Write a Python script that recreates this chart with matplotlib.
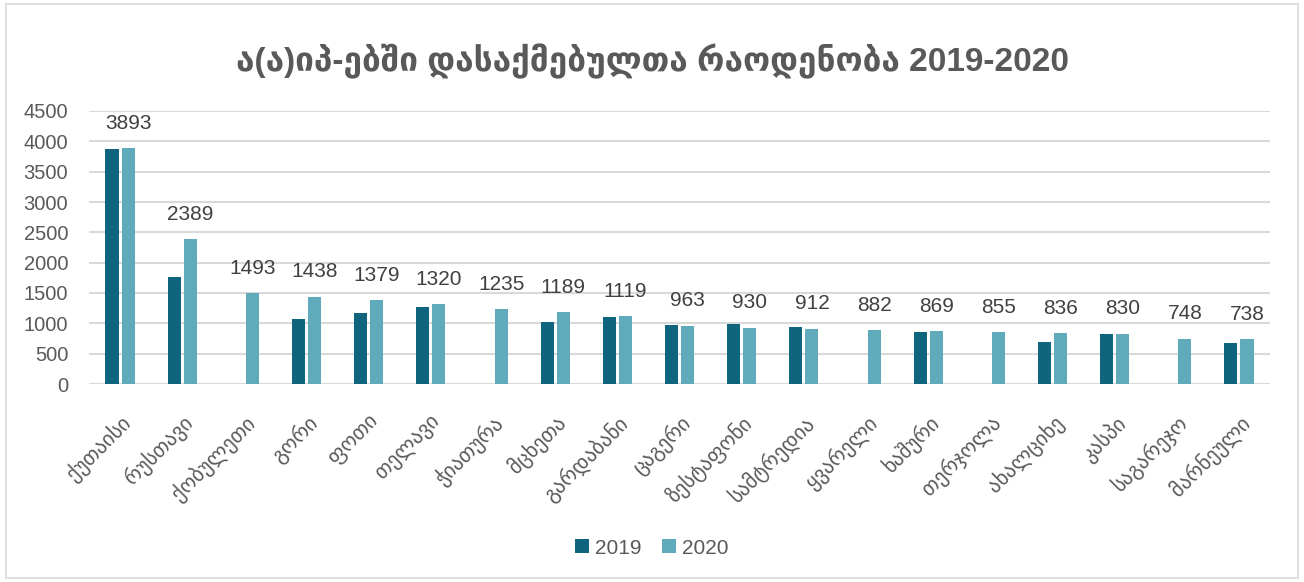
import numpy as np
import matplotlib
matplotlib.use("Agg")
import matplotlib.pyplot as plt
from matplotlib.patches import Rectangle

plt.rcParams['font.family'] = ['Liberation Sans', 'DejaVu Sans']

# cities and employee counts (NaN = no 2019 value)
cities = ["ქუთაისი", "რუსთავი", "ქობულეთი", "გორი", "ფოთი", "თელავი", "ჭიათურა",
          "მცხეთა", "გარდაბანი", "ცაგერი", "ზესტაფონი", "სამტრედია", "ყვარელი",
          "ხაშური", "თერჯოლა", "ახალციხე", "კასპი", "საგარეჯო", "მარნეული"]
vals_2019 = [3868, 1760, np.nan, 1071, 1165, 1264, np.nan, 1020, 1110, 978,
             990, 945, np.nan, 862, np.nan, 693, 822, np.nan, 678]
vals_2020 = [3893, 2389, 1493, 1438, 1379, 1320, 1235, 1189, 1119, 963,
             930, 912, 882, 869, 855, 836, 830, 748, 738]
yticks = [0, 500, 1000, 1500, 2000, 2500, 3000, 3500, 4000, 4500]

c19 = "#10657E"
c20 = "#5FAABB"
txt = "#595959"

fig = plt.figure(figsize=(13.04, 5.82), dpi=100)
ax = fig.add_axes([89 / 1304, 1 - 384 / 582, (1270 - 89) / 1304, (384 - 111) / 582])

x = np.arange(len(cities))
w = 0.21
ax.bar(x - 0.13, vals_2019, width=w, color=c19, label="2019", zorder=3)
ax.bar(x + 0.13, vals_2020, width=w, color=c20, label="2020", zorder=3)

for xi, v in zip(x, vals_2020):
    ax.annotate(str(v), (xi + 0.13, v), xytext=(0, 11), textcoords="offset points",
                ha="center", va="bottom", fontsize=15, color="#404040")

ax.set_xlim(-0.5, len(cities) - 0.5)
ax.set_ylim(0, 4500)
ax.set_yticks(yticks)
ax.yaxis.grid(True, color="#D9D9D9", linewidth=1.5, zorder=0)
ax.set_axisbelow(True)
for s in ax.spines.values():
    s.set_visible(False)
ax.tick_params(axis="both", length=0, labelcolor=txt)
ax.tick_params(axis="y", pad=15, labelsize=14.5)
ax.set_xticks(x)
ax.set_xticklabels(cities, rotation=45, ha="right", rotation_mode="anchor", fontsize=15)
ax.tick_params(axis="x", pad=20)

fig.suptitle("ა(ა)იპ-ებში დასაქმებულთა რაოდენობა 2019-2020", x=0.5, y=0.925,
             fontsize=24, fontweight="bold", color=txt)

fig.legend(loc="center", bbox_to_anchor=(0.5, 1 - 548 / 582), ncol=2, frameon=False,
           fontsize=15, handlelength=0.65, handleheight=0.65, handletextpad=0.3,
           columnspacing=1.0, labelcolor=txt)

fig.patches.append(Rectangle((6 / 1304, 4 / 582), 1 - 12 / 1304, 1 - 8 / 582,
                             transform=fig.transFigure, fill=False,
                             edgecolor="#D9D9D9", linewidth=1.2))

fig.savefig("out.png", dpi=100, facecolor="white")
